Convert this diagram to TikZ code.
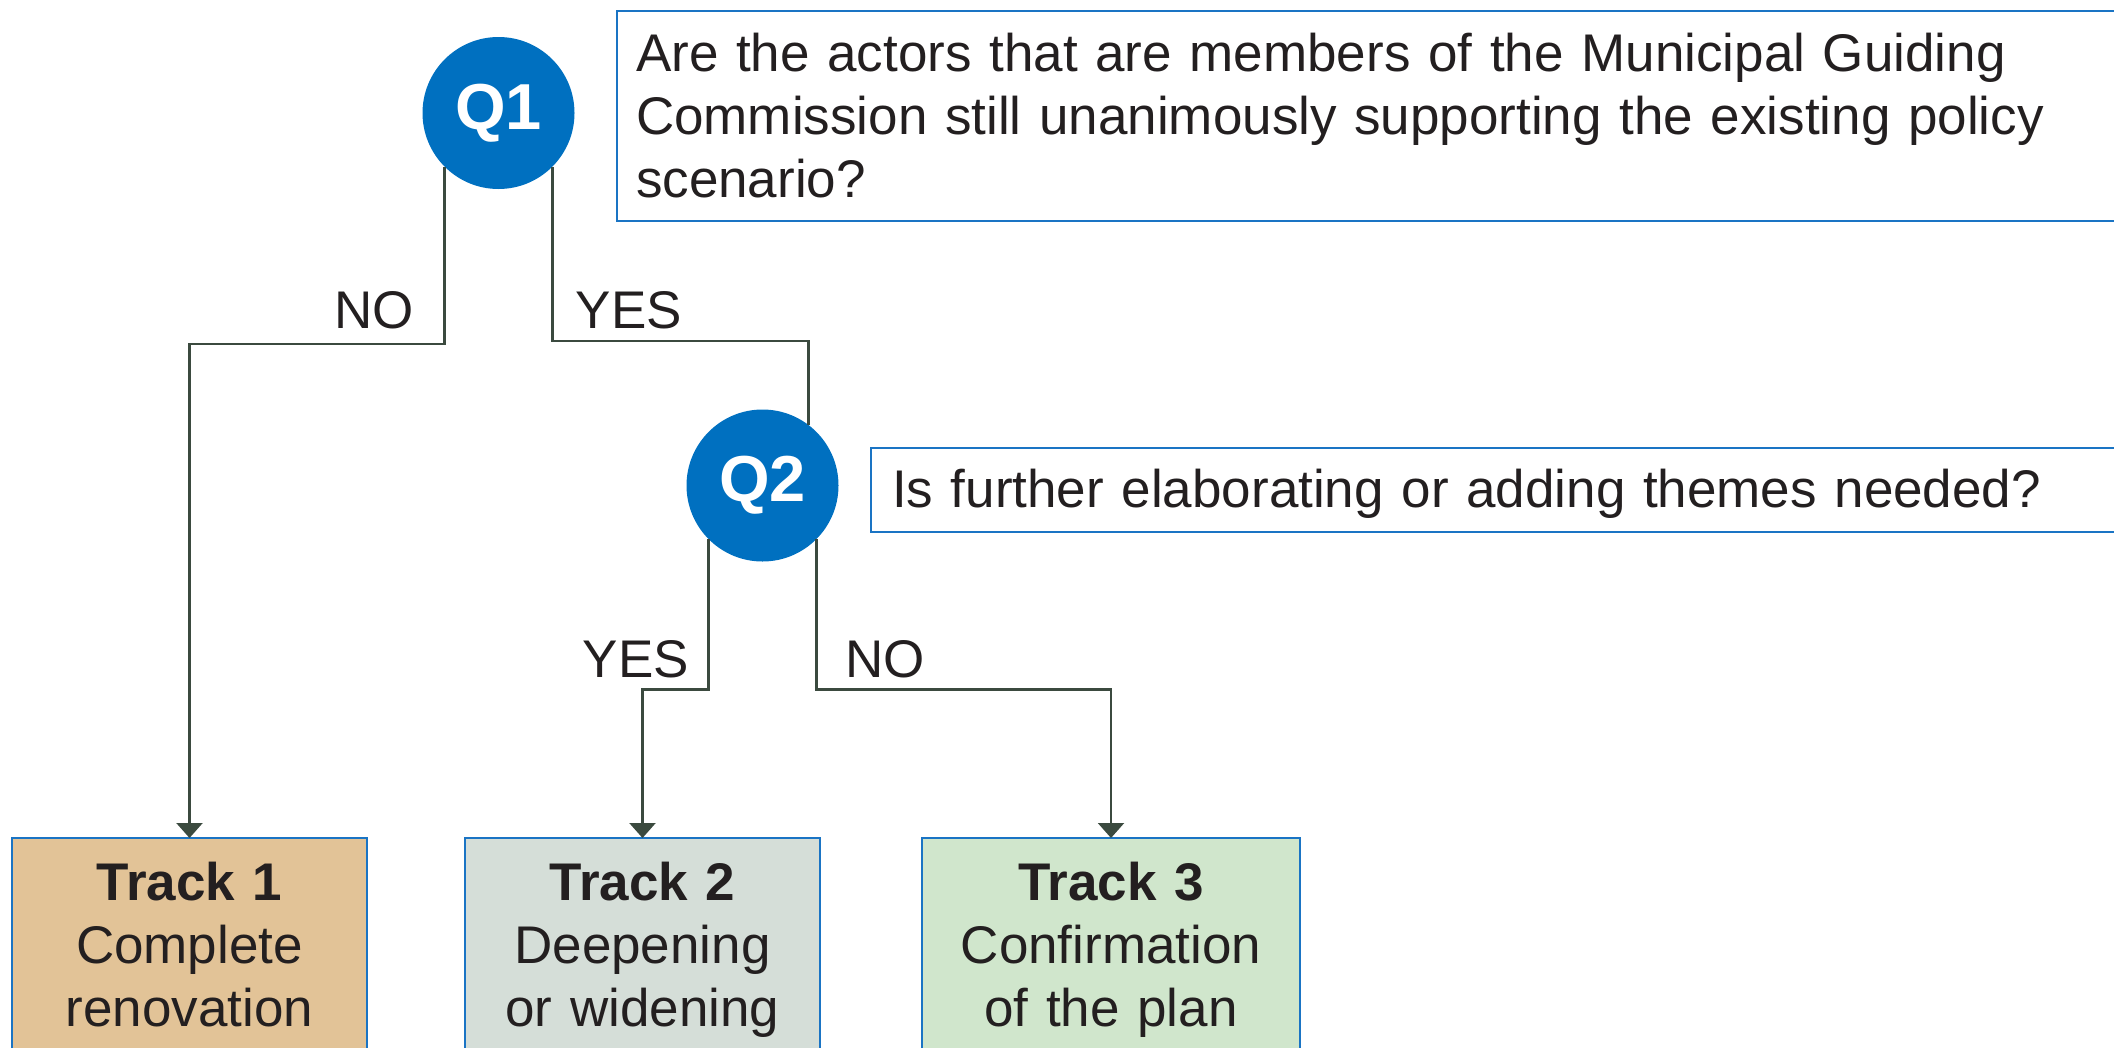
\documentclass[tikz,border=0pt]{standalone}
\usepackage{fontspec}
\setmainfont{Liberation Sans}
\usetikzlibrary{arrows.meta}
\definecolor{qblue}{HTML}{0070C0}
\definecolor{boxblue}{HTML}{1A74C4}
\definecolor{edgegreen}{HTML}{3B4A3F}
\definecolor{ink}{HTML}{231F20}
\definecolor{trackone}{HTML}{E2C397}
\definecolor{tracktwo}{HTML}{D5DED8}
\definecolor{trackthree}{HTML}{D0E6CC}

\begin{document}
\begin{tikzpicture}[x=1pt,y=-1pt]
    \tikzset{question/.style = {shape=circle, fill=qblue, text=white, minimum size=152pt, inner sep=0pt, font=\fontsize{65}{70}\selectfont\bfseries}}
    \tikzset{askbox/.style = {draw=boxblue, line width=2pt, outer sep=0pt, text=ink, font=\fontsize{53}{63}\selectfont, align=left}}
    \tikzset{track/.style = {draw=boxblue, line width=2pt, anchor=north, outer sep=0pt, inner ysep=24pt, inner xsep=10pt, align=center, text=ink, font=\fontsize{53}{63}\selectfont}}
    \tikzset{answer/.style = {anchor=base, text=ink, font=\fontsize{53}{63}\selectfont}}
    \tikzset{edge/.style = {draw=edgegreen, line width=2.3pt}}

    \useasboundingbox (0,0) rectangle (2114,1047);
    \clip (0,0) rectangle (2114,1047);

    % questions
    \node[question] (q1) at (498.5,113) {Q1};
    \node[question] (q2) at (762.5,485.5) {Q2};
    \node[askbox, anchor=north west, text width=1520pt, inner xsep=19pt, minimum height=210pt] (ask1) at (617,11)
        {Are the actors that are members of the Municipal Guiding\\Commission still unanimously supporting the existing policy\\scenario?};
    \node[askbox, anchor=west, text width=1280pt, inner xsep=21pt, text height=38pt, text depth=3pt, minimum height=84pt] (ask2) at (871,489.5)
        {Is further elaborating or adding themes needed?};

    % tracks
    \node[track, fill=trackone, text width=335pt] (t1) at (189.5,838) {\textbf{Track 1}\\Complete\\renovation};
    \node[track, fill=tracktwo, text width=335pt] (t2) at (642.5,838) {\textbf{Track 2}\\Deepening\\or widening};
    \node[track, fill=trackthree, text width=358pt] (t3) at (1111,838) {\textbf{Track 3}\\Confirmation\\of the plan};

    % edges
    \draw[edge, -{Triangle[width=26pt,length=15pt]}] (q1.south west) -- ++(0,177) -| (t1.north);
    \draw[edge] (q1.south east) -- ++(0,174) -| (q2.53);
    \draw[edge, -{Triangle[width=26pt,length=15pt]}] (q2.south west) -- ++(0,150) -| (t2.north);
    \draw[edge, -{Triangle[width=26pt,length=15pt]}] (q2.south east) -- ++(0,150) -| (t3.north);

    % answers
    \node[answer] (no1) at (374,328) {NO};
    \node[answer] (yes1) at (629,328) {YES};
    \node[answer] (yes2) at (636,677) {YES};
    \node[answer] (no2) at (885,677) {NO};
\end{tikzpicture}
\end{document}
